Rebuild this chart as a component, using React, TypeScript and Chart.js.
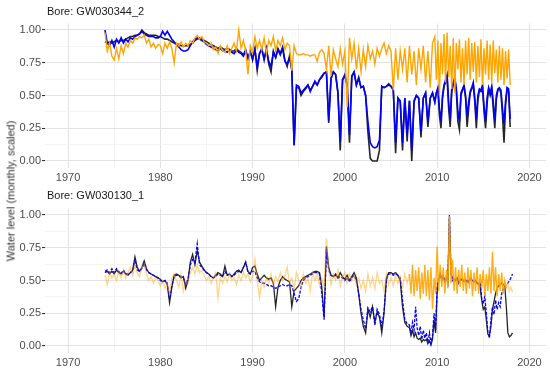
import React, { useEffect, useRef } from 'react';
import { Chart, registerables } from 'chart.js';

Chart.register(...registerables);

const FONT = '"Liberation Sans", Arial, Helvetica, sans-serif';

// Tick values (major every 10 years / 0.25, minor halfway)
const X_TICKS = [1970, 1975, 1980, 1985, 1990, 1995, 2000, 2005, 2010, 2015, 2020];
const Y_TICKS = [0, 0.125, 0.25, 0.375, 0.5, 0.625, 0.75, 0.875, 1];

const TITLES = ['Bore: GW030344_2', 'Bore: GW030130_1'];
const Y_TITLE = 'Water level (monthly, scaled)';

// ---------- Top panel: GW030344_2 ----------
// quarterly samples from 1974.0 to 2009.5
const TOP_Q_START = 1974;
const TOP_BLACK_Q = [
  0.91, 0.90, 0.91, 0.90,
  0.91, 0.92, 0.91, 0.92,
  0.92, 0.93, 0.94, 0.95,
  0.95, 0.96, 0.96, 0.97,
  1.00, 0.98, 0.97, 0.96,
  0.96, 0.96, 0.96, 0.95,
  0.95, 0.94, 0.93, 0.93,
  0.92, 0.91, 0.90, 0.89,
  0.89, 0.88, 0.88, 0.88,
  0.88, 0.89, 0.90, 0.92,
  0.93, 0.94, 0.93, 0.92,
  0.91, 0.90, 0.89, 0.88,
  0.87, 0.86, 0.87, 0.86,
  0.85, 0.86, 0.85, 0.84,
  0.84, 0.86, 0.84, 0.83,
  0.81, 0.85, 0.78, 0.84,
  0.77, 0.86, 0.69, 0.82,
  0.86, 0.77, 0.86, 0.74,
  0.68, 0.84, 0.79, 0.86,
  0.82, 0.87, 0.77, 0.72,
  0.80, 0.70, 0.12, 0.56,
  0.56, 0.50, 0.53, 0.55,
  0.58, 0.54, 0.57, 0.60,
  0.58, 0.62, 0.65, 0.67,
  0.68, 0.29, 0.63, 0.68,
  0.66, 0.52, 0.08, 0.62,
  0.66, 0.58, 0.14, 0.65,
  0.68, 0.58, 0.64, 0.56,
  0.57, 0.50, 0.22, 0.02,
  0.00, 0.00, 0.00, 0.08,
  0.57, 0.56, 0.57, 0.59,
  0.57, 0.55, 0.06, 0.48,
  0.45, 0.08, 0.48, 0.15,
  0.46, 0.00, 0.45, 0.50,
  0.48, 0.18, 0.48, 0.52,
  0.26, 0.48, 0.52,
];
const TOP_BLUE_Q = [
  1.00, 0.90, 0.88, 0.92,
  0.87, 0.93, 0.90, 0.94,
  0.90, 0.93, 0.91, 0.94,
  0.93, 0.95, 0.96, 0.97,
  0.99, 0.97, 0.96, 0.95,
  0.95, 0.95, 0.94, 0.94,
  0.95, 0.99, 0.96, 0.99,
  0.96, 0.93, 0.91, 0.89,
  0.87, 0.85, 0.84, 0.84,
  0.85, 0.88, 0.91, 0.93,
  0.94, 0.93, 0.92, 0.91,
  0.89, 0.88, 0.87, 0.86,
  0.85, 0.84, 0.86, 0.84,
  0.84, 0.83, 0.85, 0.83,
  0.82, 0.85, 0.83, 0.82,
  0.80, 0.84, 0.79, 0.83,
  0.78, 0.85, 0.72, 0.82,
  0.85, 0.78, 0.85, 0.76,
  0.72, 0.83, 0.79, 0.85,
  0.81, 0.86, 0.76, 0.74,
  0.79, 0.70, 0.12, 0.58,
  0.57, 0.52, 0.54, 0.56,
  0.58, 0.53, 0.57, 0.61,
  0.58, 0.62, 0.64, 0.67,
  0.68, 0.31, 0.63, 0.68,
  0.66, 0.52, 0.15, 0.62,
  0.65, 0.58, 0.20, 0.64,
  0.68, 0.58, 0.63, 0.56,
  0.57, 0.50, 0.30, 0.14,
  0.11, 0.10, 0.11, 0.16,
  0.57, 0.56, 0.57, 0.58,
  0.57, 0.54, 0.14, 0.48,
  0.46, 0.14, 0.48, 0.20,
  0.46, 0.08, 0.46, 0.50,
  0.48, 0.22, 0.48, 0.52,
  0.30, 0.48, 0.52,
];
const TOP_ORANGE_Q = [
  0.98, 0.84, 0.90, 0.80,
  0.77, 0.86, 0.78, 0.88,
  0.82, 0.90, 0.87, 0.92,
  0.90, 0.94, 0.93, 0.95,
  0.94, 0.96, 0.90, 0.93,
  0.87, 0.90, 0.86, 0.89,
  0.88, 0.82, 0.90, 0.86,
  0.91, 0.86, 0.75, 0.90,
  0.88, 0.91, 0.87, 0.90,
  0.88, 0.92, 0.90, 0.94,
  0.96, 0.93, 0.95, 0.91,
  0.90, 0.88, 0.90, 0.85,
  0.87, 0.82, 0.88, 0.84,
  0.83, 0.88, 0.82, 0.86,
  0.90, 0.84, 1.00, 0.86,
  0.92, 0.84, 0.66, 0.88,
  0.83, 0.95, 0.86, 0.92,
  0.85, 0.94, 0.82, 0.92,
  0.88, 0.95, 0.84, 0.92,
  0.88, 0.94, 0.85, 0.90,
  0.88, 0.69, 0.88, 0.82,
  0.81, 0.81, 0.82, 0.81,
  0.81, 0.80, 0.81, 0.81,
  0.76, 0.83, 0.85, 0.82,
  0.70, 0.88, 0.65, 0.85,
  0.78, 0.72, 0.86, 0.74,
  0.84, 0.41, 0.94, 0.78,
  0.90, 0.70, 0.86, 0.68,
  0.85, 0.72, 0.88, 0.78,
  0.84, 0.74, 0.86, 0.80,
  0.86, 0.90, 0.82, 0.88,
  0.84, 0.54, 0.86, 0.62,
  0.84, 0.70, 0.86, 0.60,
  0.88, 0.66, 0.84, 0.58,
  0.86, 0.70, 0.88, 0.60,
  0.84, 0.56, 0.90,
];
// two-monthly samples from 2009.75
const TOP_D_START = 2009.75;
const TOP_BLACK_D = [
  0.45, 0.52, 0.55, 0.35, 0.25, 0.48,
  0.57, 0.60, 0.63, 0.40, 0.26, 0.53,
  0.58, 0.62, 0.53, 0.30, 0.24, 0.50,
  0.54, 0.57, 0.48, 0.26, 0.40, 0.52,
  0.55, 0.58, 0.45, 0.25, 0.46, 0.54,
  0.53, 0.56, 0.38, 0.25, 0.44, 0.55,
  0.50, 0.55, 0.40, 0.25, 0.47, 0.54,
  0.55, 0.52, 0.35, 0.14, 0.42, 0.55,
  0.53, 0.26,
];
const TOP_BLUE_D = [
  0.45, 0.52, 0.56, 0.40, 0.30, 0.50,
  0.58, 0.62, 0.66, 0.45, 0.32, 0.55,
  0.60, 0.64, 0.55, 0.38, 0.30, 0.52,
  0.55, 0.58, 0.50, 0.34, 0.45, 0.53,
  0.56, 0.60, 0.48, 0.32, 0.50, 0.55,
  0.54, 0.58, 0.42, 0.30, 0.48, 0.56,
  0.52, 0.57, 0.45, 0.31, 0.50, 0.55,
  0.56, 0.54, 0.40, 0.28, 0.46, 0.56,
  0.55, 0.32,
];
const TOP_ORANGE_D = [
  0.95, 0.62, 0.92, 0.50, 0.90, 0.66,
  0.97, 0.60, 0.98, 0.64, 0.88, 0.55,
  0.94, 0.52, 0.90, 0.70, 0.93, 0.60,
  0.86, 0.58, 0.92, 0.66, 0.94, 0.62,
  0.90, 0.68, 0.91, 0.60, 0.88, 0.64,
  0.93, 0.58, 0.86, 0.66, 0.92, 0.62,
  0.89, 0.60, 0.92, 0.67, 0.85, 0.60,
  0.88, 0.62, 0.86, 0.58, 0.84, 0.63,
  0.85, 0.58,
];

// ---------- Bottom panel: GW030130_1 ----------
// quarterly samples from 1974.0 to 2006.75
const BOT_Q_START = 1974;
const BOT_BLACK_Q = [
  0.56, 0.57, 0.55, 0.57,
  0.55, 0.58, 0.56, 0.55,
  0.57, 0.55, 0.54, 0.56,
  0.58, 0.68, 0.60, 0.57,
  0.60, 0.65, 0.59, 0.56,
  0.55, 0.54, 0.53, 0.52,
  0.51, 0.49, 0.50, 0.47,
  0.33, 0.45, 0.54, 0.55,
  0.54, 0.52, 0.53, 0.44,
  0.50, 0.64, 0.70, 0.62,
  0.73, 0.64, 0.61, 0.58,
  0.56, 0.55, 0.53, 0.52,
  0.54, 0.56, 0.55, 0.53,
  0.61, 0.54, 0.55, 0.53,
  0.55, 0.57, 0.58, 0.56,
  0.60, 0.64, 0.57, 0.55,
  0.60, 0.61, 0.55, 0.50,
  0.52, 0.54, 0.52, 0.51,
  0.52, 0.48, 0.30, 0.45,
  0.50, 0.53, 0.51, 0.50,
  0.49, 0.30, 0.42, 0.44,
  0.46, 0.50, 0.52, 0.53,
  0.54, 0.55, 0.56, 0.57,
  0.57, 0.56, 0.45, 0.22,
  0.76, 0.60, 0.54, 0.53,
  0.55, 0.52, 0.56, 0.53,
  0.51, 0.54, 0.50, 0.53,
  0.56, 0.52, 0.40, 0.25,
  0.15, 0.10, 0.28, 0.22,
  0.30, 0.18, 0.26, 0.22,
  0.10, 0.25, 0.52, 0.56,
  0.56, 0.55, 0.56, 0.54,
  0.50, 0.30, 0.18, 0.15,
];
const BOT_BLUE_Q = [
  0.57, 0.58, 0.56, 0.59,
  0.56, 0.59, 0.57, 0.55,
  0.58, 0.55, 0.55, 0.56,
  0.57, 0.65, 0.58, 0.57,
  0.59, 0.63, 0.58, 0.56,
  0.55, 0.54, 0.53, 0.52,
  0.50, 0.49, 0.50, 0.48,
  0.36, 0.46, 0.53, 0.54,
  0.54, 0.53, 0.52, 0.47,
  0.51, 0.62, 0.66, 0.64,
  0.78, 0.62, 0.60, 0.58,
  0.56, 0.55, 0.53, 0.52,
  0.53, 0.55, 0.54, 0.53,
  0.57, 0.54, 0.55, 0.53,
  0.54, 0.56, 0.57, 0.56,
  0.60, 0.64, 0.56, 0.55,
  0.57, 0.57, 0.52, 0.49,
  0.48, 0.48, 0.47, 0.46,
  0.46, 0.45, 0.44, 0.45,
  0.46, 0.47, 0.46, 0.46,
  0.47, 0.46, 0.40, 0.34,
  0.36, 0.45, 0.50, 0.52,
  0.53, 0.54, 0.55, 0.56,
  0.56, 0.55, 0.40, 0.20,
  0.74, 0.58, 0.54, 0.53,
  0.54, 0.52, 0.53, 0.52,
  0.50, 0.52, 0.49, 0.52,
  0.54, 0.50, 0.40, 0.28,
  0.20, 0.13, 0.29, 0.26,
  0.30, 0.16, 0.28, 0.24,
  0.15, 0.27, 0.50, 0.55,
  0.55, 0.54, 0.55, 0.54,
  0.52, 0.35, 0.20, 0.17,
];
const BOT_ORANGE_Q = [
  0.54, 0.47, 0.56, 0.52,
  0.55, 0.50, 0.57, 0.52,
  0.58, 0.52, 0.56, 0.60,
  0.54, 0.62, 0.56, 0.53,
  0.60, 0.62, 0.55, 0.50,
  0.53, 0.48, 0.52, 0.50,
  0.46, 0.50, 0.44, 0.48,
  0.40, 0.52, 0.55, 0.50,
  0.45, 0.55, 0.42, 0.50,
  0.48, 0.56, 0.60, 0.55,
  0.62, 0.56, 0.58, 0.54,
  0.50, 0.53, 0.48, 0.52,
  0.56, 0.37, 0.52, 0.48,
  0.53, 0.49, 0.55, 0.50,
  0.52, 0.47, 0.54, 0.50,
  0.56, 0.52, 0.55, 0.49,
  0.53, 0.66, 0.50, 0.37,
  0.50, 0.45, 0.52, 0.48,
  0.55, 0.46, 0.53, 0.49,
  0.56, 0.50, 0.54, 0.60,
  0.48, 0.52, 0.44, 0.56,
  0.50, 0.44, 0.55, 0.48,
  0.52, 0.42, 0.56, 0.50,
  0.55, 0.46, 0.52, 0.45,
  0.82, 0.58, 0.47, 0.55,
  0.50, 0.58, 0.46, 0.53,
  0.56, 0.48, 0.55, 0.50,
  0.54, 0.47, 0.52, 0.44,
  0.50, 0.42, 0.55, 0.46,
  0.52, 0.44, 0.56, 0.48,
  0.50, 0.42, 0.55, 0.47,
  0.52, 0.46, 0.54, 0.48,
  0.53, 0.45, 0.55, 0.48,
];
// two-monthly samples from 2007.0
const BOT_D_START = 2007;
const BOT_BLACK_D = [
  0.14, 0.08, 0.12, 0.07, 0.10, 0.06,
  0.05, 0.06, 0.03, 0.05, 0.04, 0.05,
  0.02, 0.04, 0.01, 0.05, 0.20, 0.10,
  0.42, 0.50, 0.55, 0.52, 0.53, 0.50,
  0.51, 0.50, 0.98, 0.55, 0.52, 0.51,
  0.50, 0.51, 0.49, 0.50, 0.51, 0.50,
  0.50, 0.49, 0.50, 0.50, 0.51, 0.50,
  0.49, 0.50, 0.48, 0.47, 0.45, 0.35,
  0.28, 0.30, 0.20, 0.09, 0.08, 0.15,
  0.28, 0.34, 0.40, 0.44, 0.46, 0.47,
  0.48, 0.47, 0.46, 0.30, 0.10, 0.07,
  0.08, 0.10,
];
const BOT_BLUE_D = [
  0.16, 0.10, 0.18, 0.12, 0.30, 0.14,
  0.08, 0.15, 0.05, 0.12, 0.06, 0.10,
  0.03, 0.10, 0.02, 0.08, 0.25, 0.12,
  0.45, 0.52, 0.55, 0.50, 0.53, 0.49,
  0.52, 0.48, 1.00, 0.55, 0.50, 0.52,
  0.50, 0.52, 0.48, 0.51, 0.50, 0.49,
  0.51, 0.50, 0.48, 0.50, 0.52, 0.50,
  0.49, 0.50, 0.48, 0.47, 0.49, 0.36,
  0.32, 0.38, 0.25, 0.10, 0.06, 0.20,
  0.30, 0.24, 0.35, 0.28, 0.33, 0.30,
  0.40, 0.44, 0.46, 0.47, 0.48, 0.50,
  0.52, 0.55,
];
const BOT_ORANGE_D = [
  0.55, 0.40, 0.62, 0.38, 0.58, 0.42,
  0.60, 0.36, 0.56, 0.40, 0.62, 0.38,
  0.58, 0.35, 0.60, 0.28, 0.52, 0.40,
  0.76, 0.42, 0.62, 0.45, 0.60, 0.40,
  0.58, 0.44, 0.99, 0.48, 0.66, 0.42,
  0.60, 0.40, 0.58, 0.45, 0.62, 0.42,
  0.56, 0.40, 0.60, 0.44, 0.58, 0.38,
  0.56, 0.42, 0.60, 0.40, 0.55, 0.44,
  0.58, 0.38, 0.55, 0.42, 0.60, 0.40,
  0.72, 0.42, 0.60, 0.38, 0.55, 0.42,
  0.56, 0.40, 0.50, 0.44, 0.48, 0.42,
  0.45, 0.41,
];

type Pt = { x: number; y: number };

function samples(start: number, perYear: number, values: number[]): Pt[] {
  return values.map((v, i) => ({ x: start + i / perYear, y: v }));
}

const BLACK = 'rgba(0,0,0,0.85)';
const BLUE = '#0000FF';
const ORANGE = '#FFA500';
const ORANGE_LIGHT = 'rgba(255,165,0,0.45)';

const isMajorX = (v: number) => Math.abs(v % 10) < 1e-6;
const isMajorY = (v: number) => Math.abs(v * 4 - Math.round(v * 4)) < 1e-6;

interface PanelProps {
  black: Pt[];
  blue: Pt[];
  orange: Pt[];
  blueDash: number[];
  lightOrange: boolean;
  width: number;
}

function Panel({ black, blue, orange, blueDash, lightOrange, width }: PanelProps) {
  const ref = useRef<HTMLCanvasElement | null>(null);
  useEffect(() => {
    if (!ref.current) return;
    const chart = new Chart(ref.current, {
      type: 'line',
      data: {
        datasets: [
          {
            label: 'orange',
            data: orange,
            borderColor: ORANGE,
            borderWidth: 1.4,
            pointRadius: 0,
            order: 1,
            segment: lightOrange
              ? {
                  borderColor: (c: any) =>
                    c.p0.parsed.x >= 2006.9 && c.p0.parsed.x < 2017.5 ? 'rgba(255,165,0,0.9)' : ORANGE_LIGHT,
                }
              : undefined,
          } as any,
          {
            label: 'blue',
            data: blue,
            borderColor: BLUE,
            borderWidth: width,
            borderDash: blueDash,
            pointRadius: 0,
            order: 2,
          },
          {
            label: 'black',
            data: black,
            borderColor: BLACK,
            borderWidth: width,
            pointRadius: 0,
            order: 3,
          },
        ],
      },
      options: {
        animation: false,
        responsive: false,
        maintainAspectRatio: false,
        events: [],
        layout: { padding: { top: 23.45, right: 4, left: 0, bottom: 0 } },
        plugins: {
          legend: { display: false },
          tooltip: { enabled: false },
          title: { display: false },
        },
        scales: {
          x: {
            type: 'linear',
            min: 1967.5,
            max: 2021.8,
            afterBuildTicks: (s: any) => {
              s.ticks = X_TICKS.map((v) => ({ value: v }));
            },
            afterFit: (s: any) => {
              s.height = 17.45;
            },
            border: { display: false },
            grid: {
              drawTicks: false,
              color: (c: any) => (c.tick && isMajorX(c.tick.value) ? '#E3E3E3' : '#F1F1F1'),
              lineWidth: (c: any) => (c.tick && isMajorX(c.tick.value) ? 1.1 : 0.8),
            },
            ticks: {
              autoSkip: false,
              maxRotation: 0,
              padding: 4,
              color: '#4D4D4D',
              font: { size: 11, family: FONT },
              callback: (v: any) => (isMajorX(Number(v)) ? String(v) : ''),
            },
          },
          y: {
            type: 'linear',
            min: -0.05,
            max: 1.05,
            afterBuildTicks: (s: any) => {
              s.ticks = Y_TICKS.map((v) => ({ value: v }));
            },
            afterFit: (s: any) => {
              s.width = 45;
            },
            border: { display: false },
            grid: {
              drawTicks: true,
              tickLength: 3,
              tickColor: (c: any) => (c.tick && isMajorY(c.tick.value) ? '#333333' : 'rgba(0,0,0,0)'),
              color: (c: any) => (c.tick && isMajorY(c.tick.value) ? '#E3E3E3' : '#F1F1F1'),
              lineWidth: (c: any) => (c.tick && isMajorY(c.tick.value) ? 1.1 : 0.8),
            },
            ticks: {
              autoSkip: false,
              padding: 1,
              color: '#4D4D4D',
              font: { size: 11, family: FONT },
              callback: (v: any) => (isMajorY(Number(v)) ? Number(v).toFixed(2) : ''),
            },
          },
        },
      },
    });
    return () => chart.destroy();
  }, [black, blue, orange, blueDash, lightOrange, width]);
  return <canvas ref={ref} width={550} height={185} style={{ display: 'block', width: 550, height: 185 }} />;
}

const TOP_BLACK = [...samples(TOP_Q_START, 4, TOP_BLACK_Q), ...samples(TOP_D_START, 6, TOP_BLACK_D)];
const TOP_BLUE = [...samples(TOP_Q_START, 4, TOP_BLUE_Q), ...samples(TOP_D_START, 6, TOP_BLUE_D)];
const TOP_ORANGE = [...samples(TOP_Q_START, 4, TOP_ORANGE_Q), ...samples(TOP_D_START, 6, TOP_ORANGE_D)];
const BOT_BLACK = [...samples(BOT_Q_START, 4, BOT_BLACK_Q), ...samples(BOT_D_START, 6, BOT_BLACK_D)];
const BOT_BLUE = [...samples(BOT_Q_START, 4, BOT_BLUE_Q), ...samples(BOT_D_START, 6, BOT_BLUE_D)];
const BOT_ORANGE = [...samples(BOT_Q_START, 4, BOT_ORANGE_Q), ...samples(BOT_D_START, 6, BOT_ORANGE_D)];
const TOP_DASH: number[] = [];
const BOT_DASH: number[] = [3, 1.5];

export default function App() {
  const titleStyle: React.CSSProperties = {
    position: 'absolute',
    left: 47,
    fontSize: 11,
    lineHeight: '13px',
    color: '#1A1A1A',
    fontFamily: FONT,
    whiteSpace: 'nowrap',
  };
  return (
    <div
      style={{
        position: 'fixed',
        left: 0,
        top: 0,
        width: 550,
        height: 369,
        background: '#FFFFFF',
        overflow: 'hidden',
        fontFamily: FONT,
      }}
    >
      <div style={{ position: 'absolute', left: 0, top: 0 }}>
        <Panel black={TOP_BLACK} blue={TOP_BLUE} orange={TOP_ORANGE} blueDash={TOP_DASH} lightOrange={false} width={1.6} />
      </div>
      <div style={{ position: 'absolute', left: 0, top: 185 }}>
        <Panel black={BOT_BLACK} blue={BOT_BLUE} orange={BOT_ORANGE} blueDash={BOT_DASH} lightOrange={true} width={1.3} />
      </div>
      <div style={{ ...titleStyle, top: 5 }}>{TITLES[0]}</div>
      <div style={{ ...titleStyle, top: 189 }}>{TITLES[1]}</div>
      <div
        style={{
          position: 'absolute',
          left: 11,
          top: 191,
          transform: 'translate(-50%, -50%) rotate(-90deg)',
          fontSize: 11,
          fontWeight: 400,
          lineHeight: '13px',
          color: '#333333',
          whiteSpace: 'nowrap',
        }}
      >
        {Y_TITLE}
      </div>
    </div>
  );
}
